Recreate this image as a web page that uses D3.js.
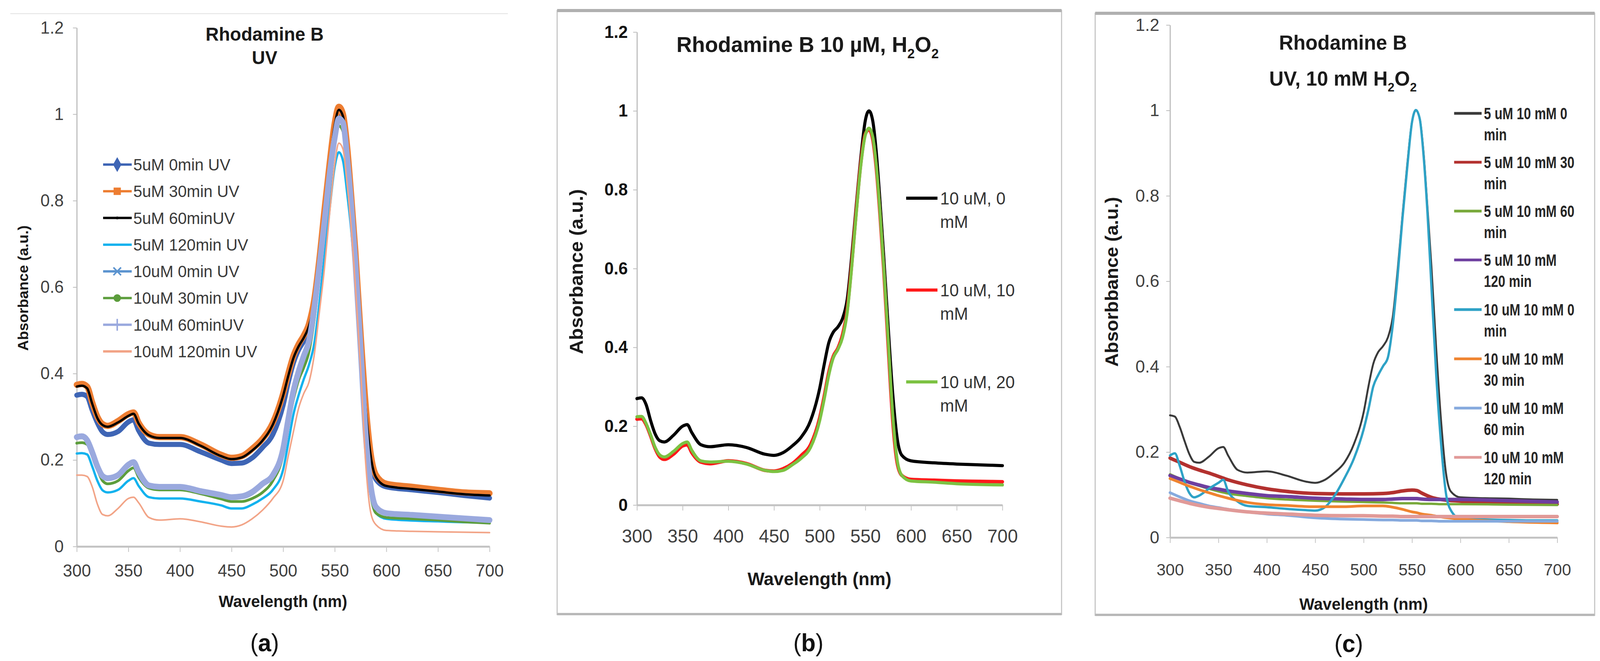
<!DOCTYPE html>
<html>
<head>
<meta charset="utf-8">
<script src="https://cdn.jsdelivr.net/npm/d3@7"></script>
<style>
html, body { margin: 0; padding: 0; width: 100%; height: 100%; background: #fff; overflow: hidden; }
svg { display: block; width: 100vw; height: 100vh; }
svg text { font-family: "Liberation Sans", Arial, sans-serif; }
</style>
</head>
<body>
<svg id="fig" viewBox="0 0 4190 1691" preserveAspectRatio="none"></svg>
<script>

// ---- data ----
var WL = [300, 305, 310, 315, 320, 325, 330, 340, 350, 355, 360, 370, 380, 400, 420, 440, 450, 460, 470, 480, 490,
          500, 505, 510, 515, 520, 525, 530, 535, 540, 545, 550, 554, 558, 562, 566, 570, 575, 580, 585, 590,
          600, 625, 650, 675, 700];
var WL_LOW = [300, 310, 320, 330, 340, 350, 360, 380, 400, 420, 450, 480, 500, 520, 530, 540, 550, 555, 560, 570, 580,
              600, 650, 700];
var X_TICKS = [300, 350, 400, 450, 500, 550, 600, 650, 700];
var Y_TICKS = [0, 0.2, 0.4, 0.6, 0.8, 1, 1.2];

// (a) Rhodamine B, UV
var A_NAMES = ['5uM 0min UV', '5uM 30min UV', '5uM 60minUV', '5uM 120min UV',
               '10uM 0min UV', '10uM 30min UV', '10uM 60minUV', '10uM 120min UV'];
var a_5uM_0 = [.350,.352,.347,.315,.286,.265,.259,.266,.288,.293,.268,.239,.236,.236,.219,.200,.192,.193,.205,.229,.259,
               .327,.380,.425,.455,.475,.500,.550,.645,.760,.870,.960,.995,.985,.910,.795,.668,.480,.312,.200,.155,
               .138,.131,.125,.118,.112];
var a_5uM_30 = [.374,.376,.370,.333,.300,.283,.279,.290,.306,.310,.286,.259,.253,.253,.236,.212,.205,.209,.226,.249,.286,
                .354,.400,.441,.468,.488,.515,.569,.663,.778,.886,.980,1.017,1.000,.926,.811,.683,.495,.327,.212,.165,
                .145,.138,.131,.125,.123];
var a_5uM_60 = [.370,.372,.366,.330,.297,.281,.277,.287,.302,.307,.284,.257,.251,.251,.233,.209,.202,.206,.222,.245,.282,
                .349,.395,.436,.463,.483,.510,.563,.657,.772,.880,.975,1.010,.995,.920,.805,.676,.488,.320,.207,.160,
                .140,.133,.127,.121,.118];
var a_5uM_120 = [.215,.216,.213,.185,.152,.130,.125,.131,.152,.158,.140,.114,.111,.111,.104,.095,.088,.088,.097,.111,.131,
                 .178,.240,.306,.350,.387,.420,.468,.560,.670,.780,.879,.912,.892,.818,.730,.616,.434,.239,.118,.077,
                 .064,.060,.058,.056,.055];
var a_10uM_0 = [.250,.252,.243,.215,.182,.160,.155,.162,.185,.192,.170,.139,.136,.135,.125,.117,.112,.113,.122,.142,.162,
                .222,.290,.355,.400,.436,.470,.543,.640,.745,.855,.940,.985,.975,.895,.785,.652,.458,.256,.135,.089,
                .075,.070,.067,.063,.060];
var a_10uM_30 = [.239,.240,.236,.210,.178,.152,.145,.152,.175,.182,.160,.135,.131,.131,.122,.110,.104,.104,.111,.125,.152,
                 .212,.280,.340,.385,.414,.450,.522,.620,.730,.840,.933,.973,.960,.880,.764,.630,.440,.239,.118,.077,
                 .067,.064,.061,.057,.054];
var a_10uM_60 = [.253,.255,.246,.218,.185,.163,.158,.165,.189,.195,.172,.141,.138,.138,.128,.119,.114,.116,.126,.145,.165,
                 .226,.295,.360,.405,.441,.475,.549,.645,.750,.860,.946,.990,.980,.900,.790,.657,.461,.259,.138,.091,
                 .077,.073,.069,.065,.061];
var a_10uM_120 = [.165,.165,.162,.138,.098,.074,.071,.088,.111,.114,.101,.067,.061,.064,.057,.047,.045,.050,.064,.084,.111,
                  .152,.210,.266,.320,.354,.380,.441,.540,.643,.770,.886,.933,.919,.838,.737,.603,.414,.192,.077,.050,
                  .037,.035,.034,.033,.032];

// (b) Rhodamine B 10 uM, H2O2
var B_NAMES = [['10 uM, 0', 'mM'], ['10 uM, 10', 'mM'], ['10 uM, 20', 'mM']];
var b_0mM = [.270,.272,.255,.214,.180,.163,.160,.177,.200,.204,.184,.153,.148,.153,.146,.129,.126,.133,.150,.173,.214,
             .296,.357,.412,.439,.452,.473,.520,.629,.759,.881,.976,1.000,.976,.895,.772,.636,.452,.282,.167,.126,
             .112,.107,.104,.102,.100];
var b_10mM = [.218,.219,.204,.175,.143,.122,.116,.129,.150,.153,.133,.109,.105,.112,.105,.088,.086,.092,.105,.126,.153,
              .221,.276,.337,.378,.398,.432,.493,.609,.745,.867,.942,.952,.929,.854,.738,.602,.405,.214,.105,.075,
              .065,.063,.061,.060,.059];
var b_20mM = [.224,.225,.207,.178,.146,.127,.122,.136,.156,.160,.139,.112,.109,.111,.104,.088,.085,.088,.102,.119,.146,
              .214,.269,.330,.374,.395,.425,.486,.602,.738,.861,.939,.956,.935,.861,.745,.609,.418,.228,.112,.075,
              .061,.058,.054,.052,.051];

// (c) Rhodamine B, UV, 10 mM H2O2
var C_NAMES = [['5 uM 10 mM 0', 'min'], ['5 uM 10 mM 30', 'min'], ['5 uM 10 mM 60', 'min'], ['5 uM 10 mM', '120 min'],
               ['10 uM 10 mM 0', 'min'], ['10 uM 10 mM', '30 min'], ['10 uM 10 mM', '60 min'], ['10 uM 10 mM', '120 min']];
var c_5uM_0 = [.286,.283,.259,.226,.195,.177,.175,.189,.209,.212,.192,.158,.152,.155,.145,.131,.128,.135,.152,.175,.219,
               .293,.354,.407,.434,.448,.468,.515,.623,.751,.872,.973,1.000,.980,.899,.771,.636,.441,.273,.152,.108,
               .094,.092,.091,.089,.088];
var c_5uM_30 = [.186,.176,.166,.158,.151,.143,.135,.123,.114,.108,.103,.102,.102,.103,.105,.109,.111,.110,.104,.094,.089,
                .085,.081,.078];
var c_5uM_60 = [.148,.138,.128,.121,.114,.108,.103,.097,.092,.089,.086,.084,.083,.082,.081,.080,.080,.080,.079,.079,.078,
                .078,.077,.076];
var c_5uM_120 = [.145,.137,.129,.123,.117,.113,.109,.103,.098,.096,.092,.090,.089,.089,.090,.091,.091,.091,.090,.089,.089,
                 .089,.086,.083];
var c_10uM_0 = [.192,.197,.168,.131,.104,.094,.098,.114,.128,.135,.108,.084,.074,.071,.067,.064,.063,.071,.098,.138,.185,
                .253,.300,.354,.380,.401,.421,.495,.609,.744,.865,.973,1.001,.980,.892,.758,.589,.380,.219,.104,.064,
                .044,.042,.041,.040,.040];
var c_10uM_30 = [.138,.129,.120,.112,.105,.098,.092,.082,.077,.075,.072,.072,.074,.074,.071,.066,.060,.058,.055,.052,.048,
                 .043,.037,.034];
var c_10uM_60 = [.105,.095,.086,.080,.074,.070,.066,.060,.055,.052,.046,.043,.042,.041,.041,.040,.040,.040,.039,.039,.038,
                 .038,.038,.038];
var c_10uM_120 = [.092,.086,.080,.075,.071,.068,.065,.060,.057,.055,.052,.051,.051,.050,.050,.049,.049,.049,.049,.049,.049,
                  .049,.049,.049];

// ---- drawing ----
var svg = d3.select('#fig');

function fmtY(d) { return d === 0 ? '0' : String(+d.toFixed(1)); }

function zip(wl, vals) {
    return wl.map(function(w, i) { return [w, vals[i]]; });
}

function make_panel(p) {
    var sx = d3.scaleLinear().domain([300, 700]).range([p.x0, p.x1]);
    var sy = d3.scaleLinear().domain([0, 1.2]).range([p.y0, p.y1]);

    var ay = d3.axisLeft(sy).tickValues(Y_TICKS).tickFormat(fmtY)
        .tickSizeInner(10).tickSizeOuter(0).tickPadding(p.ypad);
    var ax = d3.axisBottom(sx).tickValues(X_TICKS).tickFormat(d3.format('d'))
        .tickSizeInner(14).tickSizeOuter(0).tickPadding(p.xpad);

    var gy = svg.append('g').attr('transform', 'translate(' + p.x0 + ',0)').call(ay);
    var gx = svg.append('g').attr('transform', 'translate(0,' + p.y0 + ')').call(ax);

    gy.select('.domain').attr('stroke', '#bdbdbd').attr('stroke-width', 3);
    gy.selectAll('.tick line').attr('stroke', '#bdbdbd').attr('stroke-width', 2);
    gy.selectAll('.tick text')
        .attr('font-family', '"Liberation Sans", Arial, sans-serif')
        .attr('font-size', p.yfs).attr('font-weight', p.ybold ? 'bold' : 'normal')
        .attr('fill', p.ybold ? '#111' : '#404040');

    gx.select('.domain').attr('stroke', '#c4c4c4').attr('stroke-width', 5);
    gx.selectAll('.tick line').attr('stroke', '#c4c4c4').attr('stroke-width', 2);
    gx.selectAll('.tick text')
        .attr('font-family', '"Liberation Sans", Arial, sans-serif')
        .attr('font-size', p.xfs).attr('fill', '#404040');

    var line = d3.line()
        .x(function(d) { return sx(d[0]); })
        .y(function(d) { return sy(d[1]); })
        .curve(d3.curveMonotoneX);

    p.series.forEach(function(s) {
        svg.append('path')
            .attr('d', line(zip(s.wl, s.vals)))
            .attr('fill', 'none')
            .attr('stroke', s.color)
            .attr('stroke-width', s.width)
            .attr('stroke-linejoin', 'round')
            .attr('stroke-linecap', 'round');
    });

    return { sx: sx, sy: sy };
}

function label(x, y, txt, size, opts) {
    opts = opts || {};
    var t = svg.append('text')
        .attr('x', x).attr('y', y)
        .attr('text-anchor', opts.anchor || 'middle')
        .attr('font-size', size)
        .attr('font-weight', opts.bold ? 'bold' : 'normal')
        .attr('fill', opts.fill || '#1a1a1a')
        .text(txt);
    if (opts.rotate) {
        t.attr('x', 0).attr('y', 0)
            .attr('transform', 'translate(' + x + ',' + y + ') rotate(-90)');
    } else if (opts.squeeze) {
        t.attr('x', 0).attr('y', 0)
            .attr('transform', 'translate(' + x + ',' + y + ') scale(' + opts.squeeze + ',1)');
    }
    return t;
}

// H2O2 with subscripts appended to a text node
function h2o2(t, size) {
    var sub = Math.round(size * 0.62), dy = Math.round(size * 0.28);
    t.append('tspan').text('H');
    t.append('tspan').attr('font-size', sub).attr('dy', dy).text('2');
    t.append('tspan').attr('dy', -dy).text('O');
    t.append('tspan').attr('font-size', sub).attr('dy', dy).text('2');
}

function panel_letter(x, y, ch) {
    var t = svg.append('text').attr('x', x).attr('y', y)
        .attr('text-anchor', 'middle').attr('font-size', 62)
        .attr('font-family', '"Liberation Serif", "DejaVu Serif", serif')
        .attr('fill', '#111');
    t.append('tspan').text('(');
    t.append('tspan').attr('font-weight', 'bold').text(ch);
    t.append('tspan').text(')');
}

// ---------- panel (a) ----------
svg.append('line').attr('x1', 27).attr('x2', 1330).attr('y1', 35).attr('y2', 35)
    .attr('stroke', '#e2e2e2').attr('stroke-width', 2);

var A_COLORS = ['#3e65b5', '#ed7d31', '#000000', '#12b2ee', '#5b93cf', '#5c9d3c', '#9aa9de', '#f2a487'];
var A_WIDTHS = [13, 16, 6, 6, 8, 7, 15, 4];
var A_VALS = [a_5uM_0, a_5uM_30, a_5uM_60, a_5uM_120, a_10uM_0, a_10uM_30, a_10uM_60, a_10uM_120];

make_panel({
    x0: 201, x1: 1282, y0: 1398, y1: 71,
    ypad: 24, xpad: 32, yfs: 44, xfs: 44, ybold: false,
    series: A_VALS.map(function(v, i) {
        return { wl: WL, vals: v, color: A_COLORS[i], width: A_WIDTHS[i] };
    })
});

label(693, 104, 'Rhodamine B', 48, { bold: true });
label(693, 164, 'UV', 48, { bold: true });
label(741, 1553, 'Wavelength (nm)', 42, { bold: true });
label(74, 737, 'Absorbance (a.u.)', 38, { bold: true, rotate: true });

var A_SYMBOLS = [d3.symbolDiamond, d3.symbolSquare, d3.symbolCircle, null,
                 d3.symbolTimes || d3.symbolCross, d3.symbolCircle, d3.symbolPlus || d3.symbolCross, null];
var A_SYM_SIZE = [420, 360, 40, 0, 260, 300, 300, 0];
A_NAMES.forEach(function(name, i) {
    var cy = 421 + 68.3 * i;
    svg.append('line').attr('x1', 270).attr('x2', 345).attr('y1', cy).attr('y2', cy)
        .attr('stroke', A_COLORS[i]).attr('stroke-width', 6);
    if (A_SYMBOLS[i]) {
        var stroked = (A_SYMBOLS[i] === d3.symbolTimes || A_SYMBOLS[i] === d3.symbolPlus);
        svg.append('path')
            .attr('d', d3.symbol().type(A_SYMBOLS[i]).size(A_SYM_SIZE[i])())
            .attr('transform', 'translate(307,' + cy + ')')
            .attr('fill', stroked ? 'none' : A_COLORS[i])
            .attr('stroke', A_COLORS[i]).attr('stroke-width', stroked ? 4 : 0);
    }
    label(349, cy + 15, name, 42, { anchor: 'start', fill: '#3a3a3a' });
});

panel_letter(693, 1666, 'a');

// ---------- panel (b) ----------
svg.append('rect').attr('x', 1459).attr('y', 27).attr('width', 1321).attr('height', 1545)
    .attr('fill', 'none').attr('stroke', '#c6c6c6').attr('stroke-width', 3);
svg.append('line').attr('x1', 1459).attr('x2', 2780).attr('y1', 27).attr('y2', 27)
    .attr('stroke', '#b0b0b0').attr('stroke-width', 8);
svg.append('line').attr('x1', 1459).attr('x2', 2780).attr('y1', 1571).attr('y2', 1571)
    .attr('stroke', '#b8b8b8').attr('stroke-width', 6);

var B_COLORS = ['#000000', '#ff1a1a', '#7cc242'];
var B_WIDTHS = [8, 9, 8];
var B_VALS = [b_0mM, b_10mM, b_20mM];

make_panel({
    x0: 1668, x1: 2625, y0: 1292, y1: 82,
    ypad: 14, xpad: 48, yfs: 44, xfs: 48, ybold: true,
    series: B_VALS.map(function(v, i) {
        return { wl: WL, vals: v, color: B_COLORS[i], width: B_WIDTHS[i] };
    })
});

var tb = label(2115, 133, 'Rhodamine B 10 \u00b5M, ', 56, { bold: true });
h2o2(tb, 56);
label(2146, 1497, 'Wavelength (nm)', 47, { bold: true });
label(1526, 695, 'Absorbance (a.u.)', 50, { bold: true, rotate: true });

B_NAMES.forEach(function(name, i) {
    var cy = 507 + 235 * i;
    svg.append('line').attr('x1', 2373).attr('x2', 2455).attr('y1', cy).attr('y2', cy)
        .attr('stroke', B_COLORS[i]).attr('stroke-width', 8);
    label(2462, cy + 16, name[0], 44, { anchor: 'start', fill: '#333' });
    label(2462, cy + 76, name[1], 44, { anchor: 'start', fill: '#333' });
});

panel_letter(2117, 1666, 'b');

// ---------- panel (c) ----------
svg.append('rect').attr('x', 2868).attr('y', 34).attr('width', 1308).attr('height', 1540)
    .attr('fill', 'none').attr('stroke', '#c6c6c6').attr('stroke-width', 3);
svg.append('line').attr('x1', 2868).attr('x2', 4176).attr('y1', 34).attr('y2', 34)
    .attr('stroke', '#b0b0b0').attr('stroke-width', 8);
svg.append('line').attr('x1', 2868).attr('x2', 4176).attr('y1', 1573).attr('y2', 1573)
    .attr('stroke', '#b8b8b8').attr('stroke-width', 6);

var C_COLORS = ['#3a3a3a', '#b3312f', '#78a93a', '#6e3fa0', '#2ea2c6', '#ef8430', '#86aade', '#e19a98'];
var C_WIDTHS = [5, 9, 6, 9, 6, 7, 7, 9];
var C_VALS = [c_5uM_0, c_5uM_30, c_5uM_60, c_5uM_120, c_10uM_0, c_10uM_30, c_10uM_60, c_10uM_120];
var C_WL = [WL, WL_LOW, WL_LOW, WL_LOW, WL, WL_LOW, WL_LOW, WL_LOW];

make_panel({
    x0: 3064, x1: 4078, y0: 1375, y1: 64,
    ypad: 18, xpad: 52, yfs: 45, xfs: 43, ybold: false,
    series: C_VALS.map(function(v, i) {
        return { wl: C_WL[i], vals: v, color: C_COLORS[i], width: C_WIDTHS[i] };
    })
});

label(3517, 127, 'Rhodamine B', 52, { bold: true });
var tc = label(3517, 219, 'UV, 10 mM ', 52, { bold: true });
h2o2(tc, 52);
label(3571, 1560, 'Wavelength (nm)', 42, { bold: true });
label(2928, 721, 'Absorbbance (a.u.)', 48, { bold: true, rotate: true });

// legend text in (c) is a condensed bold face; squeeze it horizontally
var C_LEG_Y = [290, 415, 540, 665, 792, 918, 1044, 1170];
C_NAMES.forEach(function(name, i) {
    var cy = C_LEG_Y[i];
    svg.append('line').attr('x1', 3808).attr('x2', 3880).attr('y1', cy).attr('y2', cy)
        .attr('stroke', C_COLORS[i]).attr('stroke-width', 7);
    label(3886, cy + 15, name[0], 42, { anchor: 'start', fill: '#262626', bold: true, squeeze: 0.8 });
    label(3886, cy + 69, name[1], 42, { anchor: 'start', fill: '#262626', bold: true, squeeze: 0.8 });
});

panel_letter(3532, 1668, 'c');

</script>
</body>
</html>
